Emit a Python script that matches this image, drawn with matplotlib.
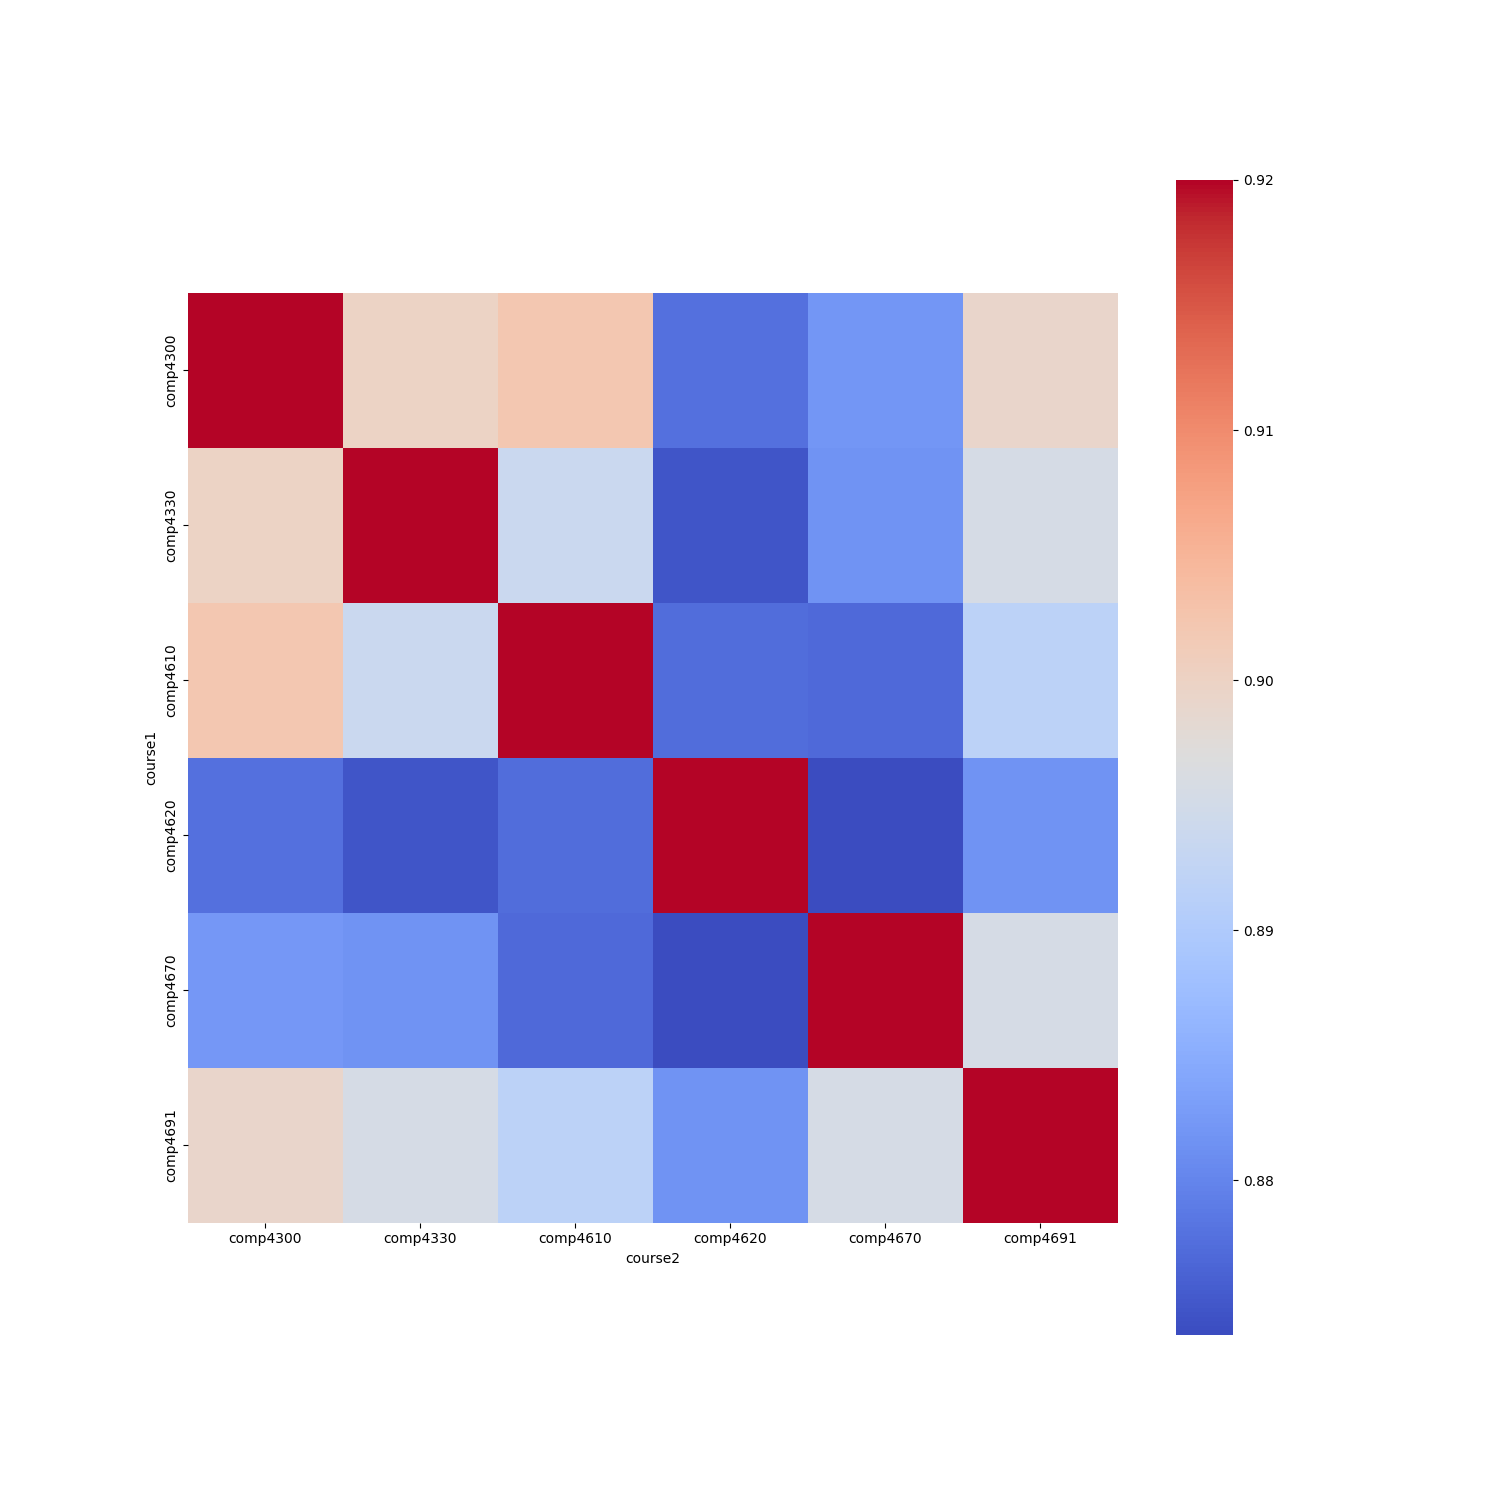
import matplotlib
matplotlib.use("Agg")
import matplotlib.pyplot as plt
import seaborn as sns
import pandas as pd
import numpy as np

courses = ["comp4300", "comp4330", "comp4610", "comp4620", "comp4670", "comp4691"]
row_comp4300 = [1.0, 0.8999, 0.9022, 0.8776, 0.8820, 0.8992]
row_comp4330 = [0.8999, 1.0, 0.8937, 0.8748, 0.8817, 0.8955]
row_comp4610 = [0.9022, 0.8937, 1.0, 0.8773, 0.8770, 0.8918]
row_comp4620 = [0.8776, 0.8748, 0.8773, 1.0, 0.8738, 0.8816]
row_comp4670 = [0.8822, 0.8817, 0.8770, 0.8738, 1.0, 0.8955]
row_comp4691 = [0.8992, 0.8955, 0.8918, 0.8816, 0.8955, 1.0]

df = pd.DataFrame(
    [row_comp4300, row_comp4330, row_comp4610, row_comp4620, row_comp4670, row_comp4691],
    index=pd.Index(courses, name="course1"),
    columns=pd.Index(courses, name="course2"),
)

fig, ax = plt.subplots(figsize=(15, 15), dpi=100)
sns.heatmap(df, cmap="coolwarm", vmax=0.92, square=True, ax=ax)
fig.savefig("out.png", dpi=100)
